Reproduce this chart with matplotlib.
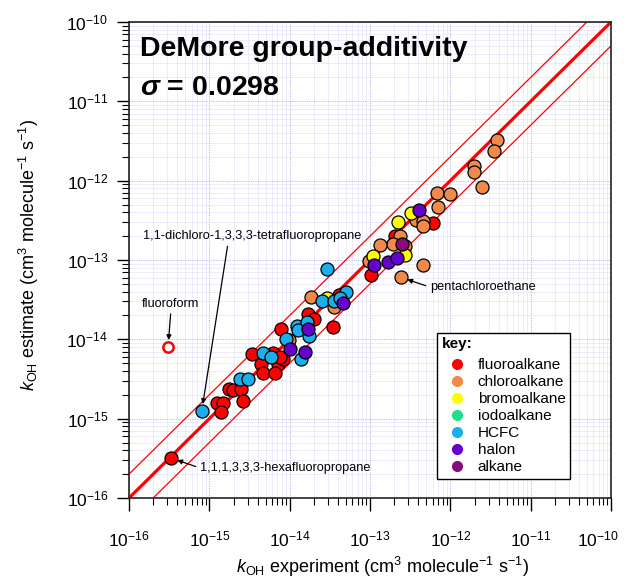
import matplotlib
matplotlib.use("Agg")
import numpy as np
import matplotlib.pyplot as plt
from matplotlib.lines import Line2D
from matplotlib.ticker import LogLocator, FixedLocator, NullFormatter
from matplotlib.transforms import ScaledTranslation

plt.rcParams.update({
    "font.family": ["Liberation Sans", "DejaVu Sans"],
    "mathtext.fontset": "custom",
    "mathtext.rm": "Liberation Sans",
    "mathtext.it": "Liberation Sans:italic",
    "mathtext.bf": "Liberation Sans:bold",
    "mathtext.bfit": "Liberation Sans:bold:italic",
    "axes.unicode_minus": False,
})

# k_OH (cm^3 molecule^-1 s^-1): experiment vs. group-additivity estimate
fluoro_exp = [3.3e-16, 1.24e-15, 1.49e-15, 1.40e-15, 1.77e-15, 1.95e-15, 2.51e-15, 2.65e-15,
              3.35e-15, 4.40e-15, 4.59e-15, 6.21e-15, 7.06e-15, 8.33e-15, 7.59e-15, 6.56e-15,
              7.80e-15, 1.68e-14, 2.01e-14, 3.49e-14, 4.15e-14, 1.03e-13, 2.05e-13, 6.04e-13]
fluoro_est = [3.2e-16, 1.56e-15, 1.56e-15, 1.22e-15, 2.34e-15, 2.30e-15, 2.34e-15, 1.69e-15,
              6.47e-15, 4.82e-15, 3.71e-15, 6.73e-15, 4.95e-15, 5.65e-15, 5.98e-15, 3.71e-15,
              1.34e-14, 2.08e-14, 1.79e-14, 1.42e-14, 3.62e-14, 6.47e-14, 2.02e-13, 2.95e-13]

chloro_exp = [3.85e-12, 3.53e-12, 1.99e-12, 1.97e-12, 2.46e-12, 6.89e-13, 9.82e-13, 6.97e-13,
              3.71e-13, 4.61e-13, 4.61e-13, 2.37e-13, 1.95e-13, 2.73e-13, 1.33e-13, 4.53e-13,
              2.41e-13, 1.82e-14, 3.60e-14, 9.82e-15, 9.73e-14]
chloro_est = [3.26e-12, 2.37e-12, 1.55e-12, 1.27e-12, 8.24e-13, 6.93e-13, 6.85e-13, 4.61e-13,
              3.19e-13, 3.10e-13, 2.68e-13, 2.02e-13, 1.59e-13, 1.50e-13, 1.55e-13, 8.65e-14,
              6.05e-14, 3.39e-14, 2.58e-14, 9.80e-15, 9.71e-14]

bromo_exp = [1.10e-13, 2.70e-13, 3.24e-13, 2.25e-13, 2.94e-14]
bromo_est = [1.13e-13, 1.14e-13, 3.88e-13, 3.04e-13, 3.35e-14]

iodo_exp = []
iodo_est = []

hcfc_exp = [8.04e-16, 2.41e-15, 3.01e-15, 4.70e-15, 5.86e-15, 8.87e-15, 1.38e-14, 1.23e-14,
            1.28e-14, 1.63e-14, 1.75e-14, 2.94e-14, 2.51e-14, 3.60e-14, 5.02e-14, 4.24e-14]
hcfc_est = [1.25e-15, 3.13e-15, 3.13e-15, 6.78e-15, 5.90e-15, 1.02e-14, 5.60e-15, 1.47e-14,
            1.31e-14, 1.67e-14, 1.10e-14, 7.64e-14, 3.07e-14, 3.07e-14, 3.98e-14, 3.29e-14]

halon_exp = [1.69e-13, 2.19e-13, 1.11e-13, 4.07e-13, 4.66e-14, 1.71e-14, 1.01e-14, 1.57e-14]
halon_est = [9.51e-14, 1.07e-13, 8.65e-14, 4.27e-13, 2.90e-14, 1.34e-14, 7.48e-15, 6.92e-15]

alkane_exp = [2.50e-13]
alkane_est = [1.58e-13]

# fluoroform, drawn as an open circle
fluoroform_exp = 3.06e-16
fluoroform_est = 8.0e-15

decades = [1e-16, 1e-15, 1e-14, 1e-13, 1e-12, 1e-11, 1e-10]
sigma = 0.0298
ratio = 2.0

series = [
    ("fluoroalkane", fluoro_exp, fluoro_est, "#ff0000"),
    ("chloroalkane", chloro_exp, chloro_est, "#f08a4b"),
    ("bromoalkane", bromo_exp, bromo_est, "#ffff00"),
    ("iodoalkane", iodo_exp, iodo_est, "#1ee08c"),
    ("HCFC", hcfc_exp, hcfc_est, "#1aaeea"),
    ("halon", halon_exp, halon_est, "#6600cc"),
    ("alkane", alkane_exp, alkane_est, "#8b0a7a"),
]

fig = plt.figure(figsize=(6.34, 5.81), dpi=100)
ax = fig.add_axes([0.2035, 0.1429, 0.7603, 0.8193])

lo, hi = decades[0], decades[-1]
ax.set_xscale("log")
ax.set_yscale("log")
ax.set_xlim(lo, hi)
ax.set_ylim(lo, hi)

# grid
for axis in (ax.xaxis, ax.yaxis):
    axis.set_major_locator(FixedLocator(decades))
    axis.set_minor_locator(LogLocator(base=10, subs=np.arange(2, 10), numticks=100))
    axis.set_minor_formatter(NullFormatter())
ax.grid(True, which="major", color="#b8b8ef", lw=0.7, ls=(0, (1.2, 1.2)), zorder=0)
ax.grid(True, which="minor", color="#d4d4f6", lw=0.6, ls=(0, (1.2, 1.2)), zorder=0)
ax.set_axisbelow(True)

# 1:1 line and factor-of-two band
line = np.array([1e-17, 1e-9])
ax.plot(line, line, color="#ff0000", lw=2.3, zorder=2)
ax.plot(line, line * ratio, color="#ff0000", lw=0.9, zorder=2)
ax.plot(line, line / ratio, color="#ff0000", lw=0.9, zorder=2)

for name, xs, ys, col in series:
    ax.scatter(xs, ys, s=88, color=col, edgecolors="black", linewidths=0.9, zorder=3)

ax.scatter([fluoroform_exp], [fluoroform_est], s=55, facecolors="white",
           edgecolors="#ff0000", linewidths=1.8, zorder=3)

# annotations
arrow = dict(arrowstyle="-|>", color="black", lw=0.9, mutation_scale=7, shrinkA=1, shrinkB=5)
ax.annotate("fluoroform", xy=(fluoroform_exp, fluoroform_est), xytext=(0.087, 0.408),
            textcoords="axes fraction", ha="center", va="center", fontsize=9.2,
            arrowprops=dict(arrow, relpos=(0.5, 0.0)))
ax.annotate("1,1-dichloro-1,3,3,3-tetrafluoropropane", xy=(hcfc_exp[0], hcfc_est[0]),
            xytext=(0.029, 0.550), textcoords="axes fraction", ha="left", va="center",
            fontsize=9.2, arrowprops=dict(arrow, relpos=(0.39, 0.0)))
ax.annotate("pentachloroethane", xy=(chloro_exp[16], chloro_est[16]),
            xytext=(0.624, 0.443), textcoords="axes fraction", ha="left", va="center",
            fontsize=9.2, arrowprops=dict(arrow, relpos=(0.0, 0.5)))
ax.annotate("1,1,1,3,3,3-hexafluoropropane", xy=(fluoro_exp[0], fluoro_est[0]),
            xytext=(0.147, 0.063), textcoords="axes fraction", ha="left", va="center",
            fontsize=9.2, arrowprops=dict(arrow, relpos=(0.0, 0.5)))

# title block
ax.text(0.023, 0.929, "DeMore group-additivity", transform=ax.transAxes, fontsize=20.5,
        fontweight="bold", va="baseline", ha="left", zorder=5)
ax.text(0.023, 0.847, r"$\mathbfit{\sigma}$" + f" = {sigma:.4f}", transform=ax.transAxes,
        fontsize=20.5, fontweight="bold", va="baseline", ha="left", zorder=5)

# legend
handles = [Line2D([], [], ls="none", marker="o", ms=7, mfc=col, mec=col, label=name)
           for name, _, _, col in series]
leg = ax.legend(handles=handles, title="key:", loc="lower left", bbox_to_anchor=(0.639, 0.040),
                fontsize=11, title_fontproperties={"weight": "bold", "size": 11},
                frameon=True, fancybox=False, framealpha=1, edgecolor="black",
                borderpad=0.3, labelspacing=0.2, handlelength=2.0, handletextpad=0.37,
                borderaxespad=0, alignment="left")
leg._legend_box.sep = 0.2 * 11 + 2.5
leg.get_frame().set_linewidth(1.0)
leg.set_zorder(6)

# axes frame and ticks
for sp in ax.spines.values():
    sp.set_linewidth(1.2)
    sp.set_color("#222222")
ax.tick_params(which="both", direction="out", top=False, right=False, color="black")
ax.tick_params(which="major", length=9, width=1.0, labelsize=12.5)
ax.tick_params(axis="x", which="major", pad=14)
ax.tick_params(axis="y", which="major", pad=6)
ax.tick_params(which="minor", length=5, width=0.8)

ax.set_xlabel(r"$k_{\mathrm{OH}}$ experiment (cm$^{3}$ molecule$^{-1}$ s$^{-1}$)", fontsize=13)
ax.set_ylabel(r"$k_{\mathrm{OH}}$ estimate (cm$^{3}$ molecule$^{-1}$ s$^{-1}$)", fontsize=13)
ax.xaxis.set_label_coords(0.527, -0.12)
ax.yaxis.set_label_coords(-0.183, 0.51)

# keep the right-most x tick label inside the figure
fig.canvas.draw()
for t in ax.xaxis.get_major_ticks():
    if np.isclose(np.log10(t.get_loc()), np.log10(hi)):
        t.label1.set_transform(t.label1.get_transform()
                               + ScaledTranslation(-0.13, 0, fig.dpi_scale_trans))

fig.savefig("out.png", dpi=100, facecolor="white")
